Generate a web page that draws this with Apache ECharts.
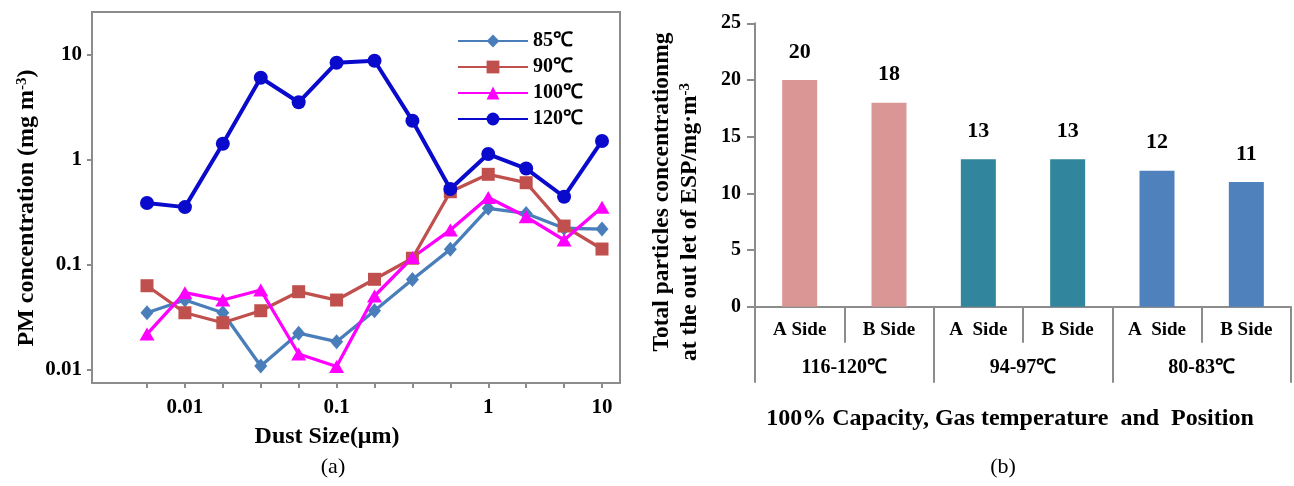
<!DOCTYPE html>
<html><head><meta charset="utf-8">
<script src="https://cdn.jsdelivr.net/npm/echarts@6/dist/echarts.min.js"></script>
<style>html,body{margin:0;padding:0;background:#fff}#c{width:1294px;height:486px}</style>
</head><body><div id="c"></div>
<script>
// ---- data (a) ----
const dustSizes = ['0.0056','0.01','0.018','0.032','0.056','0.1','0.18','0.32','0.56','1','2','4','10'];
const shownSizeLabels = ['0.01','0.1','1','10'];
const pm85  = [0.0351,0.0464,0.0351,0.0109,0.0224,0.0186,0.0367,0.0728,0.141,0.347,0.31,0.224,0.22];
const pm90  = [0.0635,0.0351,0.0282,0.0367,0.0557,0.0464,0.0731,0.116,0.499,0.731,0.608,0.235,0.142];
const pm100 = [0.022,0.0545,0.0464,0.0578,0.0142,0.0108,0.0507,0.118,0.215,0.44,0.288,0.173,0.355];
const pm120 = [0.39,0.356,1.43,6.08,3.55,8.45,8.83,2.37,0.53,1.14,0.83,0.447,1.52];
const seriesNames = ['85℃','90℃','100℃','120℃'];
// ---- data (b) ----
const positions = ['A Side','B Side','A  Side','B Side','A  Side','B Side'];
const tempGroups = ['116-120℃','94-97℃','80-83℃'];
const totalConc = [20,18,13,13,12,11];
const concMin = 0, concMax = 25, concStep = 5;

// ---- styles ----
const FONT = '"Liberation Serif","Times New Roman",serif';
const lineColors = ['#4a7ebb','#c0504d','#ff00ff','#0a0acc'];
const barColors = ['#d99694','#d99694','#31859c','#31859c','#4f81bd','#4f81bd'];
const gray = '#8c8c8c';
const bold = {fontFamily: FONT, fontWeight: 'bold', color: '#000'};

const chart = echarts.init(document.getElementById('c'), null, {renderer: 'canvas'});

function lineSeries(name, data, symbol, size, color, width) {
  return {
    name, type: 'line', xAxisIndex: 0, yAxisIndex: 0, data,
    symbol, symbolSize: size, showAllSymbol: true,
    lineStyle: {color, width}, itemStyle: {color}, z: 3
  };
}

chart.setOption({
  animation: false,
  backgroundColor: '#fff',
  grid: [
    {left: 147, top: 12, width: 455, height: 371},
    {left: 755, top: 23.3, width: 536, height: 283.4}
  ],
  legend: {
    data: seriesNames, orient: 'vertical', left: 452, top: 26,
    itemWidth: 70, itemHeight: 16, itemGap: 6,
    textStyle: Object.assign({fontSize: 20}, bold)
  },
  xAxis: [
    {
      type: 'category', gridIndex: 0, data: dustSizes, boundaryGap: false,
      axisLine: {show: false},
      axisTick: {show: true, interval: 0, length: 5, lineStyle: {color: gray, width: 2}},
      axisLabel: Object.assign({
        interval: (i, v) => shownSizeLabels.indexOf(v) >= 0,
        margin: 14, fontSize: 21
      }, bold),
      splitLine: {show: false}
    },
    {
      type: 'category', gridIndex: 1, data: positions, position: 'bottom',
      axisLine: {show: true, lineStyle: {color: gray, width: 2}},
      axisTick: {show: true, interval: 0, length: 36, lineStyle: {color: gray, width: 2}},
      axisLabel: Object.assign({interval: 0, margin: 14, fontSize: 19}, bold)
    },
    {
      type: 'category', gridIndex: 1, data: tempGroups, position: 'bottom',
      axisLine: {show: false, onZero: false},
      axisTick: {show: true, interval: 0, length: 76, lineStyle: {color: gray, width: 2}},
      axisLabel: Object.assign({interval: 0, margin: 51, fontSize: 20}, bold)
    }
  ],
  yAxis: [
    {
      type: 'log', logBase: 10, gridIndex: 0, min: 0.00752, max: 25.7, offset: 55,
      axisLine: {show: false},
      axisTick: {show: true, length: 5, lineStyle: {color: gray, width: 2}},
      axisLabel: Object.assign({showMinLabel: false, showMaxLabel: false, margin: 10, fontSize: 21}, bold),
      splitLine: {show: false}
    },
    {
      type: 'value', gridIndex: 1, min: concMin, max: concMax, interval: concStep,
      axisLine: {show: true, lineStyle: {color: gray, width: 2}},
      axisTick: {show: true, length: 8, lineStyle: {color: gray, width: 2}},
      axisLabel: Object.assign({margin: 14, fontSize: 20}, bold),
      splitLine: {show: false}
    }
  ],
  series: [
    lineSeries(seriesNames[0], pm85, 'diamond', [13, 15], lineColors[0], 3.3),
    lineSeries(seriesNames[1], pm90, 'rect', 13, lineColors[1], 3.3),
    lineSeries(seriesNames[2], pm100, 'triangle', [15, 13], lineColors[2], 3.3),
    lineSeries(seriesNames[3], pm120, 'circle', 14, lineColors[3], 4),
    {
      type: 'bar', xAxisIndex: 1, yAxisIndex: 1, barWidth: 35,
      data: totalConc.map((v, i) => ({value: v, itemStyle: {color: barColors[i]}})),
      label: Object.assign({show: true, position: 'top', distance: 17, fontSize: 22}, bold)
    }
  ],
  graphic: [
    {type: 'rect', shape: {x: 92, y: 12, width: 528, height: 371}, style: {fill: 'none', stroke: gray, lineWidth: 2}, z: 1, silent: true},
    {type: 'text', x: 27, y: 208, rotation: Math.PI / 2,
      style: {text: '{a|PM concentration (mg m}{s|-3}{a|)}', align: 'center', verticalAlign: 'middle',
        rich: {a: {fontFamily: FONT, fontWeight: 'bold', fontSize: 24, fill: '#000'},
               s: {fontFamily: FONT, fontWeight: 'bold', fontSize: 15, fill: '#000', verticalAlign: 'top', padding: [0, 0, 10, 0]}}}},
    {type: 'text', x: 327, y: 437, style: {text: 'Dust Size(μm)', font: 'bold 24px ' + FONT, fill: '#000', align: 'center', verticalAlign: 'middle'}},
    {type: 'text', x: 333, y: 467, style: {text: '(a)', font: '22px ' + FONT, fill: '#000', align: 'center', verticalAlign: 'middle'}},
    {type: 'text', x: 662, y: 192, rotation: Math.PI / 2,
      style: {text: 'Total particles concentrationmg', font: 'bold 23.5px ' + FONT, fill: '#000', align: 'center', verticalAlign: 'middle'}},
    {type: 'text', x: 690, y: 222, rotation: Math.PI / 2,
      style: {text: '{a|at the out let of ESP/mg·m}{s|-3}', align: 'center', verticalAlign: 'middle',
        rich: {a: {fontFamily: FONT, fontWeight: 'bold', fontSize: 23.5, fill: '#000'},
               s: {fontFamily: FONT, fontWeight: 'bold', fontSize: 15, fill: '#000', verticalAlign: 'top', padding: [0, 0, 10, 0]}}}},
    {type: 'text', x: 1010, y: 419, style: {text: '100% Capacity, Gas temperature  and  Position', font: 'bold 24px ' + FONT, fill: '#000', align: 'center', verticalAlign: 'middle'}},
    {type: 'text', x: 1003, y: 467, style: {text: '(b)', font: '22px ' + FONT, fill: '#000', align: 'center', verticalAlign: 'middle'}}
  ]
});
</script></body></html>
